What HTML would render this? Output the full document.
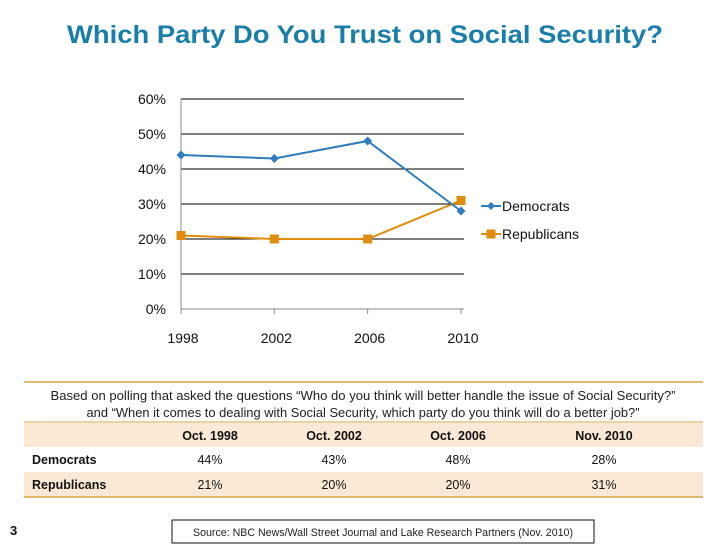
<!DOCTYPE html>
<html><head><meta charset="utf-8"><style>
body{margin:0;background:#fff;}
svg{display:block;font-family:"Liberation Sans",sans-serif;}
</style></head><body>
<svg id="s" width="728" height="546" viewBox="0 0 728 546">
<text x="365" y="43" text-anchor="middle" font-size="25" font-weight="bold" fill="#1a7eaa" textLength="596" lengthAdjust="spacingAndGlyphs">Which Party Do You Trust on Social Security?</text>
<g id="chart"></g>
<g>
<line x1="24" y1="382" x2="703" y2="382" stroke="#d9a441" stroke-width="1.5"/>
<text x="363" y="400" text-anchor="middle" font-size="13" fill="#222" textLength="625" lengthAdjust="spacingAndGlyphs">Based on polling that asked the questions “Who do you think will better handle the issue of Social Security?”</text>
<text x="363" y="417" text-anchor="middle" font-size="13" fill="#222" textLength="553" lengthAdjust="spacingAndGlyphs">and “When it comes to dealing with Social Security, which party do you think will do a better job?”</text>
<line x1="24" y1="422" x2="703" y2="422" stroke="#d9a441" stroke-width="1"/>
<rect x="24" y="423" width="679" height="24" fill="#fbe9d5"/>
<rect x="24" y="472" width="679" height="25" fill="#fbe9d5"/>
<line x1="24" y1="497" x2="703" y2="497" stroke="#d9a441" stroke-width="1.5"/>
<g font-size="12.5" fill="#111">
<text x="210" y="440" text-anchor="middle" font-weight="bold">Oct. 1998</text>
<text x="334" y="440" text-anchor="middle" font-weight="bold">Oct. 2002</text>
<text x="458" y="440" text-anchor="middle" font-weight="bold">Oct. 2006</text>
<text x="604" y="440" text-anchor="middle" font-weight="bold">Nov. 2010</text>
<text x="32" y="464" font-weight="bold">Democrats</text>
<text x="32" y="489" font-weight="bold">Republicans</text>
<text x="210" y="464" text-anchor="middle">44%</text>
<text x="334" y="464" text-anchor="middle">43%</text>
<text x="458" y="464" text-anchor="middle">48%</text>
<text x="604" y="464" text-anchor="middle">28%</text>
<text x="210" y="489" text-anchor="middle">21%</text>
<text x="334" y="489" text-anchor="middle">20%</text>
<text x="458" y="489" text-anchor="middle">20%</text>
<text x="604" y="489" text-anchor="middle">31%</text>
</g>
</g>
<text x="10" y="535" font-size="13" font-weight="bold" fill="#111">3</text>
<rect x="172" y="520" width="422" height="23" fill="none" stroke="#111" stroke-width="1"/>
<text x="383" y="536" text-anchor="middle" font-size="11" fill="#222" textLength="380" lengthAdjust="spacingAndGlyphs">Source: NBC News/Wall Street Journal and Lake Research Partners (Nov. 2010)</text>
</svg>
<script>
const categories = ["1998","2002","2006","2010"];
const democrats = [44,43,48,28];
const republicans = [21,20,20,31];
const yTicks = [0,10,20,30,40,50,60];
const yTickLabels = ["0%","10%","20%","30%","40%","50%","60%"];

const NS="http://www.w3.org/2000/svg";
const g=document.getElementById('chart');
const x0=181,x1=461,yb=309,yt=99;
function xs(i){return x0+(x1-x0)*i/(categories.length-1);}
function ys(v){return yb-(yb-yt)*v/60;}
function mk(t,a){const e=document.createElementNS(NS,t);for(const k in a)e.setAttribute(k,a[k]);g.appendChild(e);return e;}
yTicks.forEach((v,i)=>{
  const y=ys(v);
  if(v>0){const l=mk('line',{x1:x0,y1:y,x2:464,y2:y,stroke:'#000','stroke-width':1});
  
  }
  const t=mk('text',{x:166,y:y+5,'text-anchor':'end','font-size':14,fill:'#111'});
  t.textContent=yTickLabels[i];
  
  
});
const ax=mk('line',{x1:x0,y1:yt,x2:x0,y2:yb,stroke:'#888','stroke-width':1});


const bx=mk('line',{x1:x0,y1:yb,x2:464,y2:yb,stroke:'#888','stroke-width':1});


categories.forEach((c,i)=>{
  const tk=mk('line',{x1:xs(i),y1:yb,x2:xs(i),y2:yb+5,stroke:'#888'});
  
  
  const t=mk('text',{x:xs(i)+2,y:343,'text-anchor':'middle','font-size':14,fill:'#111'});
  t.textContent=c;
  
  
});
function series(vals,color,shape,name){
  const p=mk('polyline',{points:vals.map((v,i)=>xs(i)+','+ys(v)).join(' '),fill:'none',stroke:color,'stroke-width':2});
  
  
  vals.forEach((v,i)=>{
    let m;
    if(shape==='sq') m=mk('rect',{x:xs(i)-4.5,y:ys(v)-4.5,width:9,height:9,fill:color});
    else m=mk('polygon',{points:`${xs(i)},${ys(v)-4.5} ${xs(i)+4.5},${ys(v)} ${xs(i)},${ys(v)+4.5} ${xs(i)-4.5},${ys(v)}`,fill:color});
    
    
  });
}
series(republicans,'#e08c0f','sq','republicans');
series(democrats,'#2f7dbf','dia','democrats');
// legend
function legend(y,color,shape,label,name){
  const l=mk('line',{x1:481,y1:y,x2:501,y2:y,stroke:color,'stroke-width':2});
  
  
  let m;
  if(shape==='sq') m=mk('rect',{x:486.5,y:y-4.5,width:9,height:9,fill:color});
  else m=mk('polygon',{points:`491,${y-4} 495,${y} 491,${y+4} 487,${y}`,fill:color});
  
  
  const t=mk('text',{x:502,y:y+5,'font-size':14,fill:'#111'});
  t.textContent=label;
  
  
}
legend(206,'#2f7dbf','dia','Democrats','democrats');
legend(234,'#e08c0f','sq','Republicans','republicans');
</script>
</body></html>
